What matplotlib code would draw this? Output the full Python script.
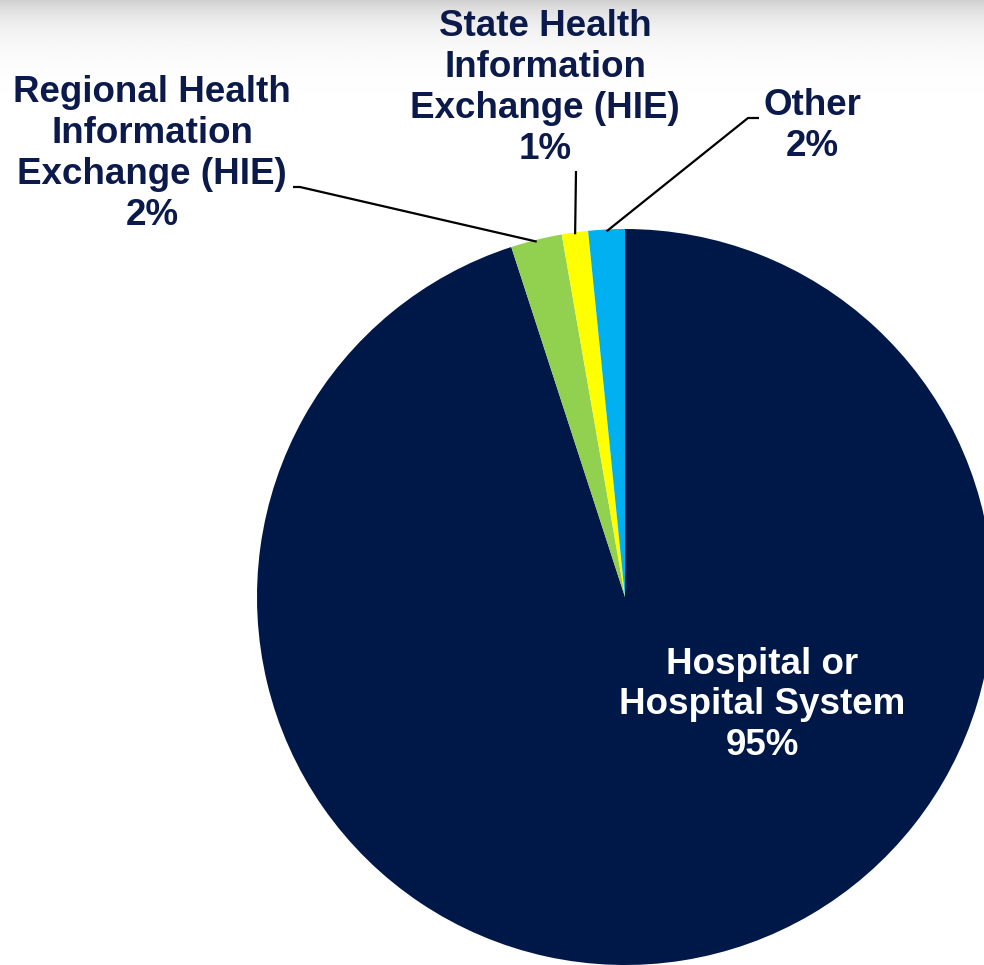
import matplotlib.pyplot as plt
import numpy as np

# Données
labels = ["Hospital or\nHospital System", "Regional Health\nInformation\nExchange (HIE)",
          "State Health\nInformation\nExchange (HIE)", "Other"]
values = [95.0, 2.25, 1.15, 1.6]
shown_pct = ["95%", "2%", "1%", "2%"]
colors = ["#001848", "#92D050", "#FFFF00", "#00B0F0"]

navy = "#0B1A4A"
W, H = 984, 965

fig = plt.figure(figsize=(W / 100, H / 100), dpi=100)

# fond : léger dégradé gris en haut
bg = fig.add_axes([0, 0, 1, 1])
rows = np.linspace(0, 1, 600)
shade = np.clip(1 - 0.18 * np.exp(-rows * 40), 0, 1)
img = np.repeat(shade[:, None], 10, axis=1)
bg.imshow(img, cmap="gray", vmin=0, vmax=1, aspect="auto", extent=[0, 1, 0, 1])
bg.set_xlim(0, 1)
bg.set_ylim(0, 1)
bg.axis("off")

# camembert : centre (625, 597) px, rayon 368 px
cx, cy, R = 625, 597, 368
ax = fig.add_axes([(cx - R) / W, (H - cy - R) / H, 2 * R / W, 2 * R / H])
wedges, _ = ax.pie(values, colors=colors, startangle=90, counterclock=False,
                   radius=1, wedgeprops=dict(linewidth=0))
ax.set_xlim(-1, 1)
ax.set_ylim(-1, 1)
ax.set_aspect("equal")


def px(x, y):
    """pixel -> coordonnées données"""
    return (x - cx) / R, (cy - y) / R


font = dict(family=["Liberation Sans", "DejaVu Sans"], fontweight="bold",
            fontsize=26.5, ha="center", va="center", linespacing=1.22)

# étiquette centrale (blanche)
x, y = px(762, 705)
ax.text(x, y, labels[0] + "\n" + shown_pct[0], color="white", **font)

# étiquettes extérieures : (position du texte, coude, départ)
outer = {
    1: ((152, 154), [(293, 187), (300, 187)]),
    2: ((545, 88), [(576, 171)]),
    3: ((812, 126), [(759, 118), (748, 118)]),
}
for i, (tpos, pts) in outer.items():
    x, y = px(*tpos)
    ax.text(x, y, labels[i] + "\n" + shown_pct[i], color=navy, **font)
    w = wedges[i]
    mid = np.deg2rad((w.theta1 + w.theta2) / 2)
    path = [px(*p) for p in pts] + [(np.cos(mid) * 0.995, np.sin(mid) * 0.995)]
    xs, ys = zip(*path)
    ax.plot(xs, ys, color="black", lw=1.6, clip_on=False, solid_capstyle="butt")

plt.savefig("out.png", dpi=100)
